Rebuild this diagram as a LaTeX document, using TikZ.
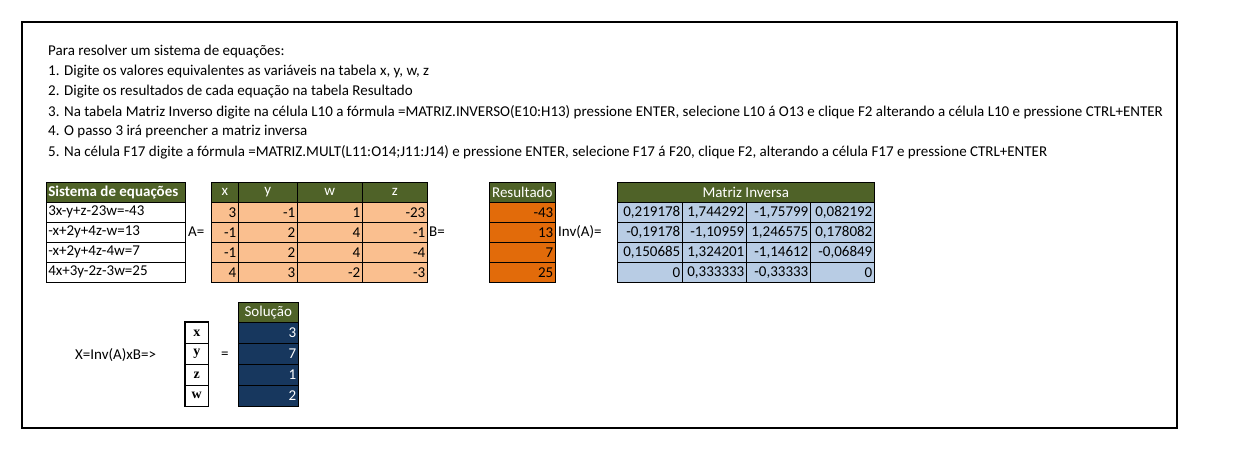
\documentclass[tikz,border=0pt]{standalone}
\usepackage{fontspec}
\setmainfont{Carlito}
\newfontfamily\serifb{Liberation Serif}
\definecolor{hdr}{HTML}{4F6228}
\definecolor{sal}{HTML}{FABF8F}
\definecolor{org}{HTML}{E26B0A}
\definecolor{lb}{HTML}{B8CCE4}
\definecolor{db}{HTML}{17375E}
\begin{document}
\begin{tikzpicture}[x=1pt,y=-1pt,
  cell/.style={draw=black,line width=0.6pt,minimum height=20pt,inner sep=2pt,font=\fontsize{15}{17}\selectfont,anchor=north west},
  txt/.style={inner sep=0pt,anchor=west,font=\fontsize{15}{17}\selectfont}]
\useasboundingbox (0,0) rectangle (1242,449);
\draw[line width=1.2pt] (22,22) rectangle (1177,428);
\foreach \t [count=\i] in {Para resolver um sistema de equações:,
 1. Digite os valores equivalentes as variáveis na tabela x{,} y{,} w{,} z,
 2. Digite os resultados de cada equação na tabela Resultado,
 3. Na tabela Matriz Inverso digite na célula L10 a fórmula =MATRIZ.INVERSO(E10:H13) pressione ENTER{,} selecione L10 á O13 e clique F2 alterando a célula L10 e pressione CTRL+ENTER,
 4. O passo 3 irá preencher a matriz inversa,
 5. Na célula F17 digite a fórmula =MATRIZ.MULT(L11:O14;J11:J14) e pressione ENTER{,} selecione F17 á F20{,} clique F2{,} alterando a célula F17 e pressione CTRL+ENTER}
  \node[txt] (l\i) at (48,{32+20*\i}) {\t};
% equations
\node[cell,fill=hdr,text=white,minimum width=139pt,text width=135pt,align=flush left] (sh) at (46,182) {\textbf{Sistema de equações}};
\foreach \t [count=\i] in {3x-y+z-23w=-43,-x+2y+4z-w=13,-x+2y+4z-4w=7,4x+3y-2z-3w=25}
  \node[cell,minimum width=139pt,text width=135pt,align=flush left] (e\i) at (46,{182+20*\i}) {\t};
% A
\foreach \h/\x/\w [count=\j] in {x/211/27,y/238/59,w/297/65,z/362/65}{
  \node[cell,fill=hdr,text=white,minimum width=\w pt] (ah\j) at (\x,182) {\h};}
\def\arow#1#2#3#4#5{%
  \node[cell,fill=sal,minimum width=27pt,text width=23pt,align=right] (a#1a) at (211,{182+20*#1}) {#2};
  \node[cell,fill=sal,minimum width=59pt,text width=55pt,align=right] (a#1b) at (238,{182+20*#1}) {#3};
  \node[cell,fill=sal,minimum width=65pt,text width=61pt,align=right] (a#1c) at (297,{182+20*#1}) {#4};
  \node[cell,fill=sal,minimum width=65pt,text width=61pt,align=right] (a#1d) at (362,{182+20*#1}) {#5};}
\arow{1}{3}{-1}{1}{-23}
\arow{2}{-1}{2}{4}{-1}
\arow{3}{-1}{2}{4}{-4}
\arow{4}{4}{3}{-2}{-3}
\node[txt] (aeq) at (188,232) {A=};
\node[txt] (beq) at (429,232) {B=};
% B
\node[cell,fill=hdr,text=white,minimum width=66pt] (rh) at (489,182) {Resultado};
\foreach \v [count=\i] in {-43,13,7,25}
  \node[cell,fill=org,minimum width=66pt,text width=62pt,align=right] (r\i) at (489,{182+20*\i}) {\v};
\node[txt] (ieq) at (558,232) {Inv(A)=};
% inverse
\node[cell,fill=hdr,text=white,minimum width=257pt] (mh) at (617,182) {Matriz Inversa};
\def\mrow#1#2#3#4#5{%
  \node[cell,fill=lb,minimum width=65pt,text width=61pt,align=right] (m#1a) at (617,{182+20*#1}) {#2};
  \node[cell,fill=lb,minimum width=64pt,text width=60pt,align=right] (m#1b) at (682,{182+20*#1}) {#3};
  \node[cell,fill=lb,minimum width=64pt,text width=60pt,align=right] (m#1c) at (746,{182+20*#1}) {#4};
  \node[cell,fill=lb,minimum width=64pt,text width=60pt,align=right] (m#1d) at (810,{182+20*#1}) {#5};}
\mrow{1}{0,219178}{1,744292}{-1,75799}{0,082192}
\mrow{2}{-0,19178}{-1,10959}{1,246575}{0,178082}
\mrow{3}{0,150685}{1,324201}{-1,14612}{-0,06849}
\mrow{4}{0}{0,333333}{-0,33333}{0}
% solution
\node[txt] (xeq) at (75,355) {X=Inv(A)xB=>};
\foreach \v [count=\i] in {x,y,z,w}
  \node[draw=black,line width=0.6pt,minimum width=23pt,minimum height=21pt,inner sep=0pt,anchor=north west,font=\serifb\bfseries\fontsize{14}{16}\selectfont] (v\i) at (185,{301+21*\i}) {\v};
\draw[line width=1.6pt] (v1.north west) rectangle (v4.south east);
\node[txt] (seq) at (221,355) {=};
\node[cell,fill=hdr,text=white,minimum width=60pt] (soh) at (238,302) {Solução};
\foreach \v [count=\i] in {3,7,1,2}
  \node[cell,fill=db,text=white,minimum width=60pt,minimum height=21pt,text width=56pt,align=right] (s\i) at (238,{301+21*\i}) {\v};
\end{tikzpicture}
\end{document}
